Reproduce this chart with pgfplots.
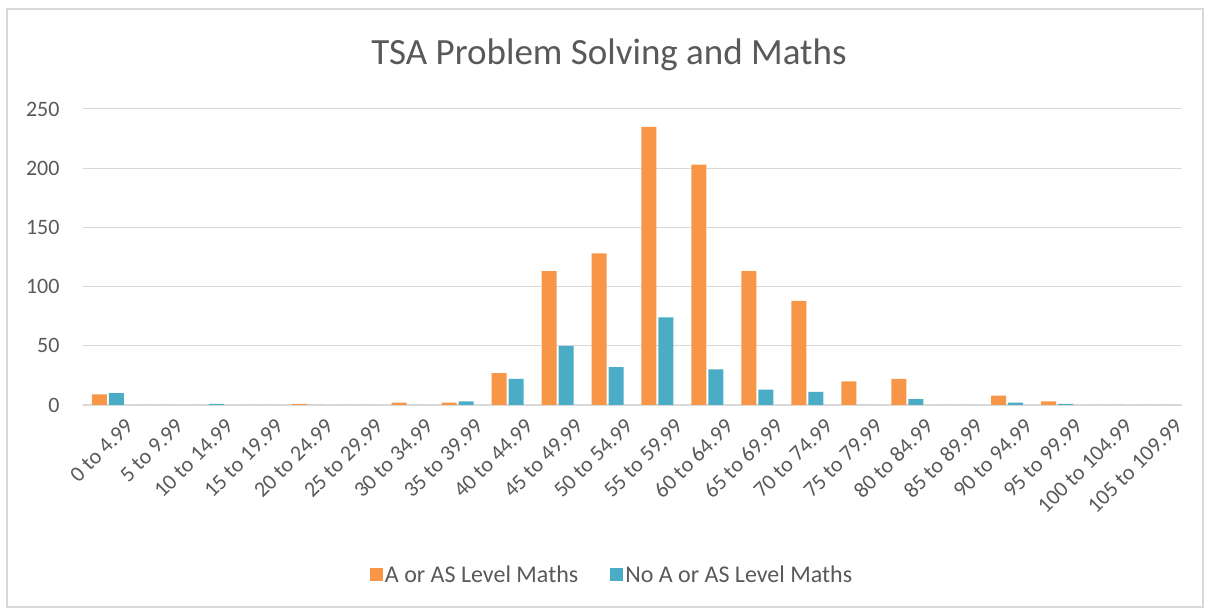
\documentclass[border=0pt]{standalone}
\usepackage{pgfplots}
\pgfplotsset{compat=1.18}
\usepackage{fontspec}
\setmainfont{Carlito}
\definecolor{cor}{HTML}{F79646}
\definecolor{cbl}{HTML}{4BACC6}
\definecolor{grd}{HTML}{D9D9D9}
\definecolor{txt}{HTML}{595959}
\begin{document}
\begin{tikzpicture}[x=1pt,y=1pt]
\path (0,0) rectangle (1205,610);
\draw[grd,line width=1.2pt] (7,3) rectangle (1203,601);
\begin{axis}[
  at={(83pt,205pt)}, anchor=south west,
  scale only axis, width=1099pt, height=296pt,
  xmin=-0.5, xmax=21.5, ymin=0, ymax=250,
  ybar, bar width=15pt,
  axis line style={draw=none},
  axis x line*=bottom,
  ytick={0,50,100,150,200,250},
  ymajorgrids, grid style={grd,line width=1pt},
  major tick length=0pt,
  xtick={0,...,21},
  xticklabels={0 to 4.99,5 to 9.99,10 to 14.99,15 to 19.99,20 to 24.99,25 to 29.99,30 to 34.99,35 to 39.99,40 to 44.99,45 to 49.99,50 to 54.99,55 to 59.99,60 to 64.99,65 to 69.99,70 to 74.99,75 to 79.99,80 to 84.99,85 to 89.99,90 to 94.99,95 to 99.99,100 to 104.99,105 to 109.99},
  xticklabel style={rotate=45, anchor=north east, font=\fontsize{22}{24}\selectfont, text=txt, inner sep=0pt, xshift=3pt, yshift=-20pt},
  yticklabel style={font=\fontsize{22}{24}\selectfont, text=txt, xshift=-20pt},
  /pgf/number format/assume math mode=true,
  legend style={at={(0.4814,-0.5743)}, anchor=center, draw=none, fill=none, legend columns=2,
    font=\fontsize{24}{26}\selectfont, text=txt, /tikz/every even column/.append style={column sep=30pt}},
  legend image code/.code={\fill[#1] (0pt,-6.5pt) rectangle (13pt,6.5pt);},
  clip=false,
]
\draw[grd,line width=1.2pt] (axis cs:-0.5,0) -- (axis cs:21.5,0);
\addplot[fill=cor, draw=none] coordinates {(0,9) (1,0) (2,0) (3,0) (4,1) (5,0) (6,2) (7,2) (8,27) (9,113) (10,128) (11,235) (12,203) (13,113) (14,88) (15,20) (16,22) (17,0) (18,8) (19,3) (20,0) (21,0)};
\addplot[fill=cbl, draw=none] coordinates {(0,10) (1,0) (2,1) (3,0) (4,0) (5,0) (6,0) (7,3) (8,22) (9,50) (10,32) (11,74) (12,30) (13,13) (14,11) (15,0) (16,5) (17,0) (18,2) (19,1) (20,0) (21,0)};
\legend{A or AS Level Maths, No A or AS Level Maths}
\end{axis}
\node[text=txt, font=\fontsize{37}{40}\selectfont] at (609,555) {TSA Problem Solving and Maths};
\end{tikzpicture}
\end{document}
